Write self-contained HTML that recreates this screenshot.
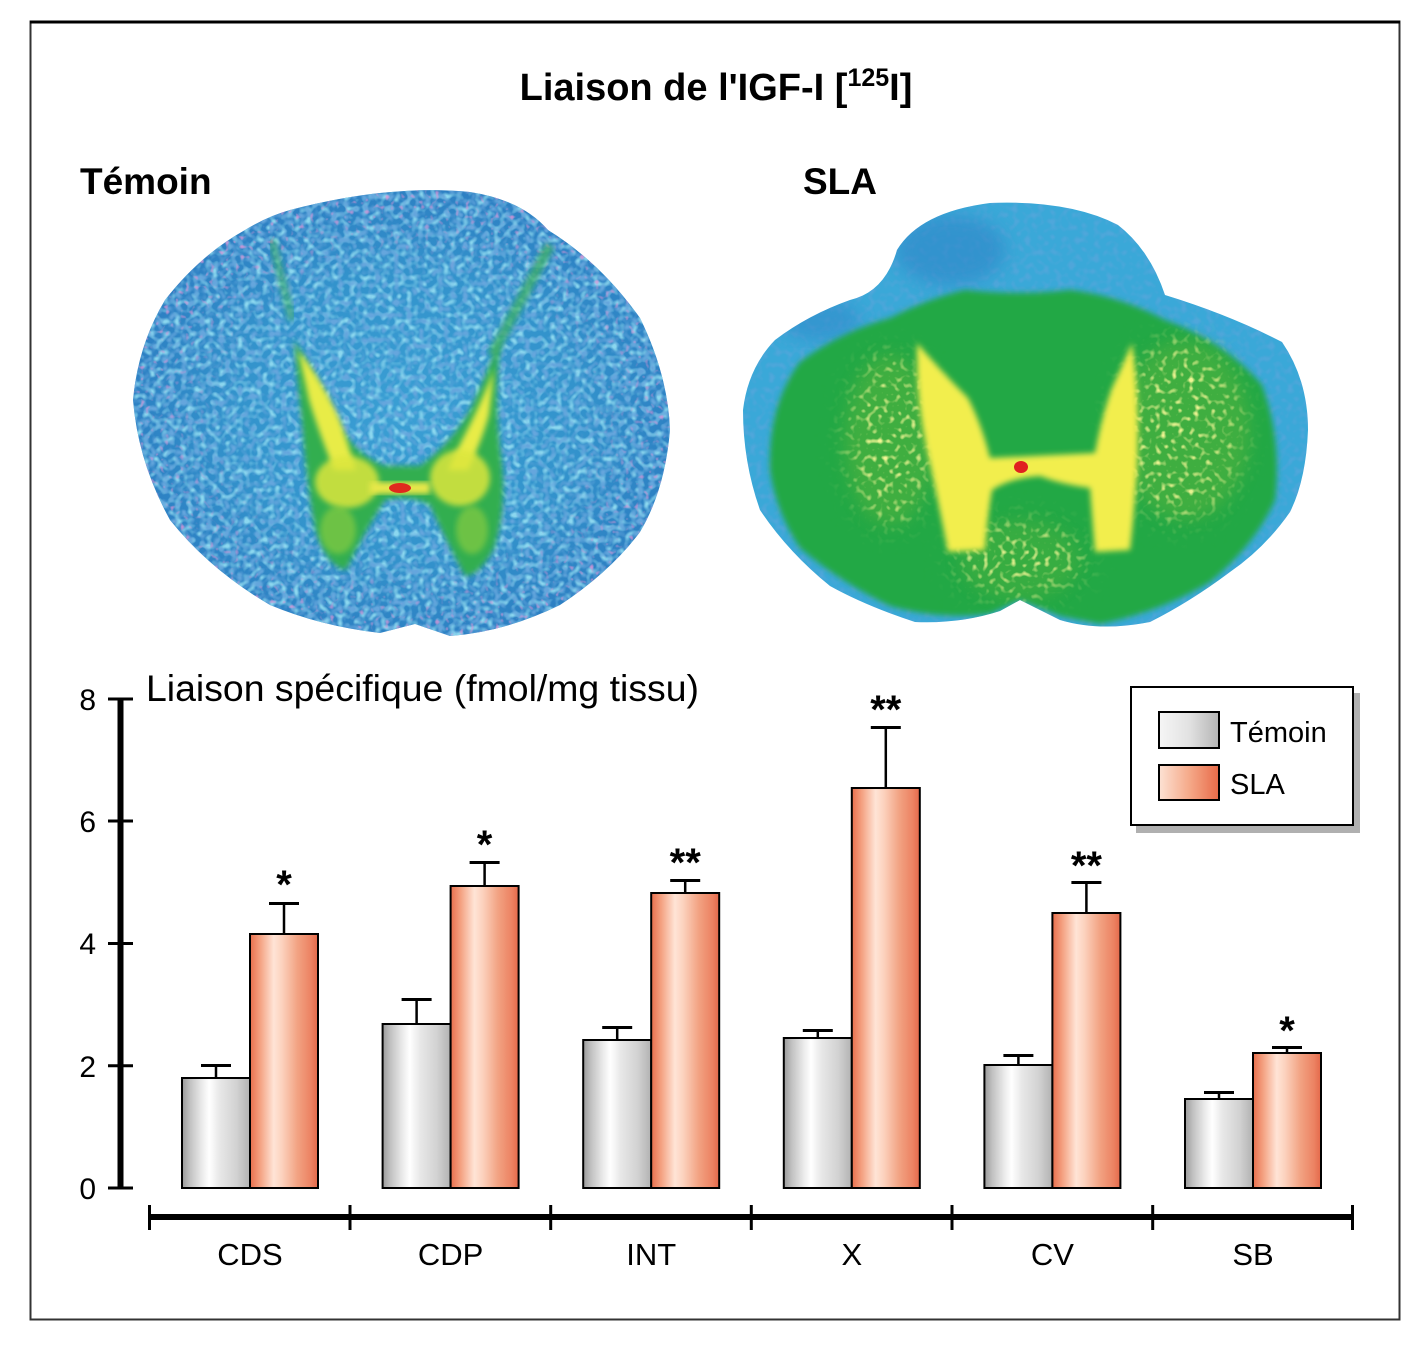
<!DOCTYPE html>
<html>
<head>
<meta charset="utf-8">
<style>
  html,body{margin:0;padding:0;background:#fff;}
  svg{display:block;}
  text{font-family:"Liberation Sans", Arial, sans-serif;}
</style>
</head>
<body>
<svg width="1424" height="1371" viewBox="0 0 1424 1371" xmlns="http://www.w3.org/2000/svg">
  <defs>
    <linearGradient id="gBar" x1="0" y1="0" x2="1" y2="0">
      <stop offset="0" stop-color="#9a9a9a"/>
      <stop offset="0.12" stop-color="#c2c2c2"/>
      <stop offset="0.3" stop-color="#ececec"/>
      <stop offset="0.4" stop-color="#ffffff"/>
      <stop offset="0.55" stop-color="#e8e8e8"/>
      <stop offset="0.8" stop-color="#d2d2d2"/>
      <stop offset="1" stop-color="#b2b2b2"/>
    </linearGradient>
    <linearGradient id="oBar" x1="0" y1="0" x2="1" y2="0">
      <stop offset="0" stop-color="#e86e4c"/>
      <stop offset="0.15" stop-color="#f4a282"/>
      <stop offset="0.35" stop-color="#ffe4d6"/>
      <stop offset="0.47" stop-color="#fcd2be"/>
      <stop offset="0.7" stop-color="#f2a282"/>
      <stop offset="0.9" stop-color="#ec8262"/>
      <stop offset="1" stop-color="#e4684a"/>
    </linearGradient>
    <linearGradient id="gLeg" x1="0" y1="0" x2="1" y2="0">
      <stop offset="0" stop-color="#f6f6f6"/>
      <stop offset="0.5" stop-color="#e2e2e2"/>
      <stop offset="1" stop-color="#b4b4b4"/>
    </linearGradient>
    <linearGradient id="oLeg" x1="0" y1="0" x2="1" y2="0">
      <stop offset="0" stop-color="#fde2d4"/>
      <stop offset="0.5" stop-color="#f5aa8a"/>
      <stop offset="1" stop-color="#e86a48"/>
    </linearGradient>
    <radialGradient id="tBrain" cx="0.5" cy="0.5" r="0.55">
      <stop offset="0" stop-color="#3a9fd4"/>
      <stop offset="0.55" stop-color="#3393cc"/>
      <stop offset="0.88" stop-color="#2d80c3"/>
      <stop offset="1" stop-color="#5068b8"/>
    </radialGradient>
    <filter id="soft" x="-10%" y="-10%" width="120%" height="120%">
      <feGaussianBlur stdDeviation="3"/>
    </filter>
    <filter id="soft6" x="-20%" y="-20%" width="140%" height="140%">
      <feGaussianBlur stdDeviation="8"/>
    </filter>
    <filter id="soft15" x="-40%" y="-40%" width="180%" height="180%">
      <feGaussianBlur stdDeviation="15"/>
    </filter>
    <filter id="nCyan" x="0" y="0" width="100%" height="100%">
      <feTurbulence type="fractalNoise" baseFrequency="0.16" numOctaves="1" seed="5"/>
      <feColorMatrix type="matrix" values="0 0 0 0 0.26  0 0 0 0 0.68  0 0 0 0 0.86  3.5 0 0 0 -1.6"/>
    </filter>
    <filter id="nDark" x="0" y="0" width="100%" height="100%">
      <feTurbulence type="fractalNoise" baseFrequency="0.16" numOctaves="1" seed="11"/>
      <feColorMatrix type="matrix" values="0 0 0 0 0.13  0 0 0 0 0.38  0 0 0 0 0.72  0 3.5 0 0 -1.6"/>
    </filter>
    <filter id="nMag" x="0" y="0" width="100%" height="100%">
      <feTurbulence type="fractalNoise" baseFrequency="0.2" numOctaves="1" seed="21"/>
      <feColorMatrix type="matrix" values="0 0 0 0 0.72  0 0 0 0 0.30  0 0 0 0 0.68  0 0 5 0 -3.0"/>
    </filter>
    <filter id="nYel" x="0" y="0" width="100%" height="100%">
      <feTurbulence type="fractalNoise" baseFrequency="0.18" numOctaves="1" seed="8"/>
      <feColorMatrix type="matrix" values="0 0 0 0 0.90  0 0 0 0 0.92  0 0 0 0 0.30  4 0 0 0 -2.1"/>
    </filter>
    <radialGradient id="edgeMask" cx="0.5" cy="0.5" r="0.5">
      <stop offset="0.6" stop-color="#000"/>
      <stop offset="1" stop-color="#fff"/>
    </radialGradient>
    <mask id="edgeM" maskContentUnits="userSpaceOnUse">
      <rect x="120" y="180" width="570" height="470" fill="url(#edgeMask)"/>
    </mask>
    <mask id="yelM" maskContentUnits="userSpaceOnUse">
      <g filter="url(#soft15)">
        <ellipse cx="890" cy="440" rx="40" ry="85" fill="#fff"/>
        <ellipse cx="1180" cy="430" rx="60" ry="90" fill="#fff"/>
        <ellipse cx="1020" cy="560" rx="65" ry="35" fill="#fff"/>
      </g>
    </mask>
    <clipPath id="tClip">
      <path d="M290,210 Q390,184 470,192 Q522,200 548,230 Q600,262 640,318 Q668,375 670,430 Q665,490 640,532 Q610,572 560,605 Q505,632 450,636 L415,624 L380,633 Q320,626 270,605 Q210,570 170,520 Q138,462 133,400 Q138,345 165,300 Q200,255 245,230 Q268,216 290,210 Z"/>
    </clipPath>
    <clipPath id="sClip">
      <path d="M897,250 Q920,212 990,203 Q1070,200 1118,225 Q1150,250 1165,295 Q1230,315 1282,342 Q1308,380 1308,430 Q1306,480 1290,512 Q1265,548 1230,572 Q1190,602 1150,622 Q1100,632 1060,620 L1020,600 L1000,611 Q960,624 915,622 Q866,606 830,586 Q788,552 760,510 Q743,462 743,410 Q748,368 775,340 Q808,315 850,300 Q885,292 897,250 Z"/>
    </clipPath>
  </defs>

  <!-- frame -->
  <rect x="30.5" y="21.5" width="1369" height="1298" fill="none" stroke="#333" stroke-width="2"/>
  <line x1="30" y1="22" x2="1400" y2="22" stroke="#000" stroke-width="3"/>

  <!-- titles -->
  <text x="716" y="100" text-anchor="middle" font-weight="bold" font-size="38">Liaison de l'IGF-I [<tspan font-size="25" dy="-14">125</tspan><tspan dy="14">I]</tspan></text>
  <text x="80" y="194" font-weight="bold" font-size="37">Témoin</text>
  <text x="803" y="194" font-weight="bold" font-size="37">SLA</text>

  <!-- Témoin section -->
  <g clip-path="url(#tClip)">
    <rect x="120" y="180" width="570" height="470" fill="url(#tBrain)"/>
    <rect x="120" y="180" width="570" height="470" filter="url(#nCyan)"/>
    <rect x="120" y="180" width="570" height="470" filter="url(#nDark)"/>
    <rect x="120" y="180" width="570" height="470" filter="url(#nMag)" mask="url(#edgeM)"/>
    <path d="M272,240 L292,320" stroke="#3cb060" stroke-width="8" opacity="0.6" filter="url(#soft)"/>
    <path d="M550,245 L492,355" stroke="#3cb060" stroke-width="10" opacity="0.75" filter="url(#soft)"/>
    <path d="M294,340 Q318,380 335,420 Q355,455 385,466 L420,466 Q450,445 470,410 Q488,372 500,338 Q494,400 500,450 Q508,505 494,548 Q480,575 465,576 Q446,540 430,505 Q410,494 385,500 Q365,530 346,570 Q326,566 315,528 Q306,478 303,430 Q298,385 294,340 Z" fill="#30ae50" filter="url(#soft)"/>
    <path d="M298,350 Q322,380 340,420 Q350,450 356,470 L334,470 Q318,430 309,400 Z" fill="#e8ec46" filter="url(#soft)"/>
    <path d="M494,370 Q478,410 462,440 Q452,460 448,470 L468,470 Q482,440 489,415 Z" fill="#e8ec46" filter="url(#soft)"/>
    <ellipse cx="347" cy="482" rx="32" ry="26" fill="#dce63e" opacity="0.85" filter="url(#soft)"/>
    <ellipse cx="460" cy="478" rx="30" ry="28" fill="#dce63e" opacity="0.85" filter="url(#soft)"/>
    <ellipse cx="338" cy="530" rx="18" ry="24" fill="#9ed43e" opacity="0.55" filter="url(#soft)"/>
    <ellipse cx="472" cy="530" rx="16" ry="24" fill="#9ed43e" opacity="0.55" filter="url(#soft)"/>
    <path d="M370,482 L430,482 L430,494 L370,494 Z" fill="#e8e84a" filter="url(#soft)"/>
    <ellipse cx="400" cy="488" rx="11" ry="5" fill="#e0281e"/>
  </g>

  <!-- SLA section -->
  <g clip-path="url(#sClip)">
    <rect x="730" y="190" width="600" height="460" fill="#3aa8d8"/>
    <rect x="730" y="190" width="600" height="460" filter="url(#nDark)" opacity="0.5"/>
    <ellipse cx="950" cy="250" rx="55" ry="35" fill="#2d86c8" opacity="0.6" filter="url(#soft6)"/>
    <ellipse cx="820" cy="320" rx="40" ry="20" fill="#2d86c8" opacity="0.5" filter="url(#soft6)"/>
    <path d="M770,470 Q768,405 800,362 Q840,332 890,318 Q930,298 965,290 Q1020,296 1070,290 Q1120,296 1165,320 Q1225,342 1262,385 Q1282,440 1275,500 Q1255,545 1210,582 Q1160,612 1100,624 L1060,616 L1020,600 L990,614 Q940,620 890,606 Q840,582 800,548 Q776,512 770,470 Z" fill="#22a845" filter="url(#soft)"/>
    <ellipse cx="890" cy="440" rx="45" ry="85" fill="#6cb83a" opacity="0.4" filter="url(#soft6)"/>
    <ellipse cx="1185" cy="430" rx="65" ry="90" fill="#6cb83a" opacity="0.4" filter="url(#soft6)"/>
    <ellipse cx="1020" cy="560" rx="60" ry="40" fill="#6cb83a" opacity="0.3" filter="url(#soft6)"/>
    <rect x="730" y="190" width="600" height="460" filter="url(#nYel)" mask="url(#yelM)"/>
    <path d="M917,343 Q940,370 968,398 Q982,425 990,458 L1095,453 Q1102,415 1112,388 Q1125,360 1132,343 Q1140,400 1137,470 Q1134,515 1130,550 L1095,552 Q1092,515 1090,488 Q1060,484 1040,476 Q1010,478 992,490 Q987,520 985,550 L948,552 Q938,500 926,445 Q916,395 917,343 Z" fill="#f2ee4e" filter="url(#soft)"/>
    <ellipse cx="1021" cy="467" rx="7" ry="6" fill="#e02020"/>
  </g>

  <!-- Y axis -->
  <g stroke="#000">
    <line x1="120.5" y1="698" x2="120.5" y2="1189" stroke-width="6"/>
    <line x1="108" y1="699" x2="133" y2="699" stroke-width="3"/>
    <line x1="108" y1="821" x2="133" y2="821" stroke-width="3"/>
    <line x1="108" y1="943.5" x2="133" y2="943.5" stroke-width="3"/>
    <line x1="108" y1="1065.7" x2="133" y2="1065.7" stroke-width="3"/>
    <line x1="108" y1="1188" x2="133" y2="1188" stroke-width="3"/>
  </g>
  <g font-size="30" text-anchor="end" fill="#000">
    <text x="96" y="710">8</text>
    <text x="96" y="832">6</text>
    <text x="96" y="954">4</text>
    <text x="96" y="1077">2</text>
    <text x="96" y="1199">0</text>
  </g>
  <text x="146" y="701" font-size="37" textLength="553" lengthAdjust="spacingAndGlyphs">Liaison spécifique (fmol/mg tissu)</text>

  <!-- X axis -->
  <g stroke="#000">
    <line x1="149" y1="1217" x2="1353" y2="1217" stroke-width="6"/>
    <line x1="149.5" y1="1205" x2="149.5" y2="1230" stroke-width="3"/>
    <line x1="350" y1="1205" x2="350" y2="1230" stroke-width="3"/>
    <line x1="550.7" y1="1205" x2="550.7" y2="1230" stroke-width="3"/>
    <line x1="751.3" y1="1205" x2="751.3" y2="1230" stroke-width="3"/>
    <line x1="952" y1="1205" x2="952" y2="1230" stroke-width="3"/>
    <line x1="1152.7" y1="1205" x2="1152.7" y2="1230" stroke-width="3"/>
    <line x1="1352.5" y1="1205" x2="1352.5" y2="1230" stroke-width="3"/>
  </g>
  <g font-size="31" text-anchor="middle" fill="#000">
    <text x="250" y="1265">CDS</text>
    <text x="450.6" y="1265">CDP</text>
    <text x="651.2" y="1265">INT</text>
    <text x="851.8" y="1265">X</text>
    <text x="1052.4" y="1265">CV</text>
    <text x="1253" y="1265">SB</text>
  </g>

  <!-- Error bars -->
  <g stroke="#000" fill="none">
    <line x1="216" y1="1065" x2="216" y2="1078" stroke-width="2.5"/><line x1="201" y1="1065.5" x2="231" y2="1065.5" stroke-width="3"/>
    <line x1="284" y1="903" x2="284" y2="934" stroke-width="2.5"/><line x1="269" y1="903.5" x2="299" y2="903.5" stroke-width="3"/>
    <line x1="416.6" y1="999" x2="416.6" y2="1024" stroke-width="2.5"/><line x1="401.6" y1="999.5" x2="431.6" y2="999.5" stroke-width="3"/>
    <line x1="484.6" y1="862" x2="484.6" y2="886" stroke-width="2.5"/><line x1="469.6" y1="862.5" x2="499.6" y2="862.5" stroke-width="3"/>
    <line x1="617.2" y1="1027" x2="617.2" y2="1040" stroke-width="2.5"/><line x1="602.2" y1="1027.5" x2="632.2" y2="1027.5" stroke-width="3"/>
    <line x1="685.2" y1="880" x2="685.2" y2="893" stroke-width="2.5"/><line x1="670.2" y1="880.5" x2="700.2" y2="880.5" stroke-width="3"/>
    <line x1="817.8" y1="1030" x2="817.8" y2="1038" stroke-width="2.5"/><line x1="802.8" y1="1030.5" x2="832.8" y2="1030.5" stroke-width="3"/>
    <line x1="885.8" y1="727" x2="885.8" y2="788" stroke-width="2.5"/><line x1="870.8" y1="727.5" x2="900.8" y2="727.5" stroke-width="3"/>
    <line x1="1018.4" y1="1055" x2="1018.4" y2="1065" stroke-width="2.5"/><line x1="1003.4" y1="1055.5" x2="1033.4" y2="1055.5" stroke-width="3"/>
    <line x1="1086.4" y1="882" x2="1086.4" y2="913" stroke-width="2.5"/><line x1="1071.4" y1="882.5" x2="1101.4" y2="882.5" stroke-width="3"/>
    <line x1="1219" y1="1092" x2="1219" y2="1099" stroke-width="2.5"/><line x1="1204" y1="1092.5" x2="1234" y2="1092.5" stroke-width="3"/>
    <line x1="1287" y1="1047" x2="1287" y2="1053" stroke-width="2.5"/><line x1="1272" y1="1047.5" x2="1302" y2="1047.5" stroke-width="3"/>
  </g>

  <!-- Bars -->
  <g stroke="#000" stroke-width="2">
    <rect x="182" y="1078" width="68" height="110" fill="url(#gBar)"/>
    <rect x="250" y="934" width="68" height="254" fill="url(#oBar)"/>
    <rect x="382.6" y="1024" width="68" height="164" fill="url(#gBar)"/>
    <rect x="450.6" y="886" width="68" height="302" fill="url(#oBar)"/>
    <rect x="583.2" y="1040" width="68" height="148" fill="url(#gBar)"/>
    <rect x="651.2" y="893" width="68" height="295" fill="url(#oBar)"/>
    <rect x="783.8" y="1038" width="68" height="150" fill="url(#gBar)"/>
    <rect x="851.8" y="788" width="68" height="400" fill="url(#oBar)"/>
    <rect x="984.4" y="1065" width="68" height="123" fill="url(#gBar)"/>
    <rect x="1052.4" y="913" width="68" height="275" fill="url(#oBar)"/>
    <rect x="1185" y="1099" width="68" height="89" fill="url(#gBar)"/>
    <rect x="1253" y="1053" width="68" height="135" fill="url(#oBar)"/>
  </g>

  <!-- significance stars -->
  <g font-size="40" font-weight="bold" text-anchor="middle" fill="#000">
    <text x="284" y="898">*</text>
    <text x="484.6" y="858">*</text>
    <text x="685.2" y="876">**</text>
    <text x="885.8" y="723">**</text>
    <text x="1086.4" y="879">**</text>
    <text x="1287" y="1044">*</text>
  </g>

  <!-- Legend -->
  <rect x="1136" y="693" width="224" height="140" fill="#b0b0b0"/>
  <rect x="1131" y="687" width="222" height="138" fill="#fff" stroke="#000" stroke-width="2"/>
  <rect x="1159" y="712" width="60" height="36" fill="url(#gLeg)" stroke="#000" stroke-width="2"/>
  <rect x="1159" y="765" width="60" height="35" fill="url(#oLeg)" stroke="#000" stroke-width="2"/>
  <text x="1230" y="742" font-size="29">Témoin</text>
  <text x="1230" y="794" font-size="29">SLA</text>
</svg>
</body>
</html>
